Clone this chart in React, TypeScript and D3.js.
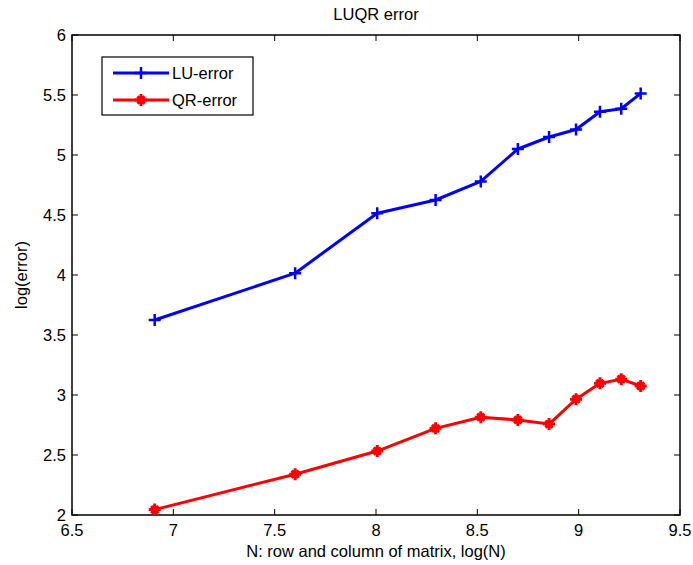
import { useEffect, useRef } from 'react';
import * as d3 from 'd3';

// log(N) for N = 1000 .. 11000
const logN = [6.908, 7.601, 8.006, 8.294, 8.517, 8.700, 8.854, 8.987, 9.105, 9.210, 9.306];
const luError = [3.625, 4.015, 4.515, 4.625, 4.78, 5.05, 5.15, 5.213, 5.36, 5.385, 5.513];
const qrError = [2.045, 2.34, 2.533, 2.722, 2.815, 2.792, 2.758, 2.965, 3.097, 3.132, 3.075];
const xTicks = [6.5, 7, 7.5, 8, 8.5, 9, 9.5];
const yTicks = [2, 2.5, 3, 3.5, 4, 4.5, 5, 5.5, 6];

const App = () => {
  const svgRef = useRef<SVGSVGElement>(null);

  useEffect(() => {
    const W = 693, H = 565;
    const m = { left: 72, right: 13, top: 35, bottom: 50 };
    const svg = d3.select(svgRef.current);
    svg.selectAll('*').remove();
    svg.attr('width', W).attr('height', H);

    const font = 'Liberation Sans, Arial, sans-serif';
    const fs = 16.5;

    const x = d3.scaleLinear().domain([6.5, 9.5]).range([m.left, W - m.right]);
    const y = d3.scaleLinear().domain([2, 6]).range([H - m.bottom, m.top]);

    svg.append('rect').attr('width', W).attr('height', H).attr('fill', '#fff');

    const tick = 6;
    const g = svg.append('g').attr('stroke', '#000').attr('stroke-width', 1);
    // ticks on all four sides, pointing inward
    xTicks.forEach(t => {
      g.append('line').attr('x1', x(t)).attr('x2', x(t)).attr('y1', y(2)).attr('y2', y(2) - tick);
      g.append('line').attr('x1', x(t)).attr('x2', x(t)).attr('y1', y(6)).attr('y2', y(6) + tick);
    });
    yTicks.forEach(t => {
      g.append('line').attr('x1', x(6.5)).attr('x2', x(6.5) + tick).attr('y1', y(t)).attr('y2', y(t));
      g.append('line').attr('x1', x(9.5)).attr('x2', x(9.5) - tick).attr('y1', y(t)).attr('y2', y(t));
    });
    svg.append('rect')
      .attr('x', x(6.5)).attr('y', y(6))
      .attr('width', x(9.5) - x(6.5)).attr('height', y(2) - y(6))
      .attr('fill', 'none').attr('stroke', '#000').attr('stroke-width', 1.5);

    svg.selectAll('.xt').data(xTicks).enter().append('text')
      .attr('x', d => x(d)).attr('y', y(2) + 21)
      .attr('text-anchor', 'middle').attr('font-family', font).attr('font-size', fs)
      .text(d => String(d));
    svg.selectAll('.yt').data(yTicks).enter().append('text')
      .attr('x', x(6.5) - 6).attr('y', d => y(d) + 6)
      .attr('text-anchor', 'end').attr('font-family', font).attr('font-size', fs)
      .text(d => String(d));

    svg.append('text').attr('x', (x(6.5) + x(9.5)) / 2).attr('y', 20)
      .attr('text-anchor', 'middle').attr('font-family', font).attr('font-size', fs)
      .text('LUQR error');
    svg.append('text').attr('x', (x(6.5) + x(9.5)) / 2).attr('y', 557)
      .attr('text-anchor', 'middle').attr('font-family', font).attr('font-size', fs)
      .text('N: row and column of matrix, log(N)');
    svg.append('text')
      .attr('transform', `translate(27, ${(y(2) + y(6)) / 2}) rotate(-90)`)
      .attr('text-anchor', 'middle').attr('font-family', font).attr('font-size', fs)
      .text('log(error)');

    const line = d3.line<number>().x((_, i) => x(logN[i])).y(d => y(d));

    const plus = (sel: any, cx: number, cy: number, color: string, r: number) => {
      sel.append('path')
        .attr('d', `M${cx - r},${cy}H${cx + r}M${cx},${cy - r}V${cy + r}`)
        .attr('stroke', color).attr('stroke-width', 2.5).attr('fill', 'none');
    };
    const star = (sel: any, cx: number, cy: number, color: string, r: number) => {
      const d = r * 0.6;
      sel.append('path')
        .attr('d', `M${cx - r},${cy}H${cx + r}M${cx},${cy - r}V${cy + r}M${cx - d},${cy - d}L${cx + d},${cy + d}M${cx - d},${cy + d}L${cx + d},${cy - d}`)
        .attr('stroke', color).attr('stroke-width', 3).attr('fill', 'none');
    };

    const series = [
      { vals: luError, color: '#0000ff', mk: plus },
      { vals: qrError, color: '#ff0000', mk: star },
    ];
    series.forEach(s => {
      svg.append('path').attr('d', line(s.vals))
        .attr('fill', 'none').attr('stroke', s.color).attr('stroke-width', 3)
        .attr('stroke-linejoin', 'round');
      const mg = svg.append('g');
      s.vals.forEach((v, i) => s.mk(mg, x(logN[i]), y(v), s.color, 6));
    });

    // legend
    const lg = svg.append('g');
    lg.append('rect').attr('x', 102).attr('y', 57).attr('width', 151).attr('height', 58)
      .attr('fill', '#fff').attr('stroke', '#000').attr('stroke-width', 1.2);
    const names = ['LU-error', 'QR-error'];
    series.forEach((s, i) => {
      const ly = 73 + i * 27;
      lg.append('line').attr('x1', 113).attr('x2', 169).attr('y1', ly).attr('y2', ly)
        .attr('stroke', s.color).attr('stroke-width', 3);
      s.mk(lg, 141, ly, s.color, 6);
      lg.append('text').attr('x', 172).attr('y', ly + 6)
        .attr('font-family', font).attr('font-size', fs).text(names[i]);
    });
  }, []);

  return (
    <div style={{ position: 'absolute', left: 0, top: 0 }}>
      <svg ref={svgRef}></svg>
    </div>
  );
};

export default App;
